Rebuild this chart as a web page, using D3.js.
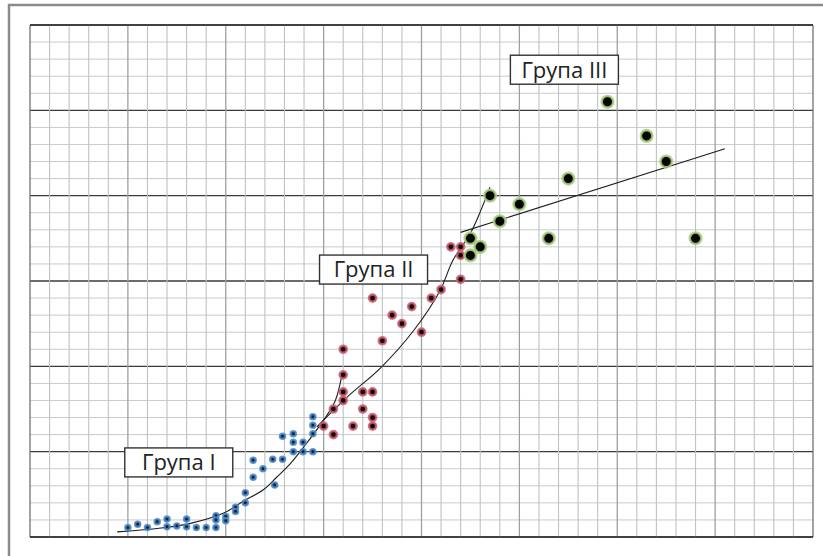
<!DOCTYPE html>
<html>
<head>
<meta charset="utf-8">
<script src="https://cdnjs.cloudflare.com/ajax/libs/d3/7.8.5/d3.min.js"></script>
<style>
  body { margin: 0; background: #fff; }
  svg { display: block; }
</style>
</head>
<body>
<div id="chart"></div>
<script>
// Initial set up
const chartWidth = 823;
const chartHeight = 556;
const margin = { top: 25, right: 10, bottom: 19, left: 30 };

// Group I (blue)
const groupOneX = [5, 5.5, 6, 6.5, 7, 7, 7.5, 8, 8, 8.5, 9, 9.5, 9.5, 9.5, 10, 10, 10.5, 10.5, 11, 11,
  11.4, 11.4, 11.9, 12.4, 12.5, 12.9, 12.9, 13.45, 13.45, 13.45, 13.95, 13.95, 14.45, 14.45, 14.45, 14.45];
const groupOneY = [0.55, 0.75, 0.55, 0.9, 1.05, 0.6, 0.65, 1.05, 0.6, 0.55, 0.55, 1.25, 1.0, 0.55, 1.2, 0.95, 1.75, 1.5, 2.6, 2.0,
  4.5, 3.5, 4.0, 4.55, 3.05, 5.9, 4.55, 6.05, 5.55, 5.0, 5.55, 5.0, 7.05, 6.55, 6.05, 5.0];

// Group II (red)
const groupTwoX = [15, 15.5, 15.5, 16, 16, 16, 16, 16.5, 17, 17, 17.5, 17.5, 17.5, 17.5, 18, 18.5, 19, 19.5, 20, 20.5, 21, 22, 21.5, 22, 22];
const groupTwoY = [6.5, 6, 7.5, 8, 8.5, 9.5, 11, 6.5, 8.5, 7.5, 8.5, 7, 6.5, 14, 11.5, 13, 12.5, 13.5, 12, 14, 14.5, 15.1, 17, 17, 16.5];

// Group III (green)
const groupThreeX = [23.5, 25, 24, 22.5, 23, 22.5, 26.5, 27.5, 29.5, 31.5, 32.5, 34];
const groupThreeY = [20, 19.5, 18.5, 17.5, 17, 16.5, 17.5, 21, 25.5, 23.5, 22, 17.5];

// Trend curves
const trendOneX = [4.45, 6.5, 8.2, 9.9, 10.9, 11.9, 12.6, 13.3, 14.0, 15.0, 15.6, 15.95];
const trendOneY = [0.3, 0.5, 0.8, 1.4, 2.1, 2.75, 3.5, 4.3, 5.3, 6.85, 8.0, 9.6];
const trendTwoX = [14.65, 16.2, 17.9, 19.6, 20.95, 21.6, 22.5, 23.0, 23.5];
const trendTwoY = [6.45, 8.2, 9.9, 12.1, 14.45, 16.2, 17.8, 19.05, 20.5];
const trendThreeX = [22.0, 35.5];
const trendThreeY = [17.85, 22.75];

const labels = ['Група I', 'Група II', 'Група III'];
const labelX = [7.6, 17.55, 27.3];
const labelY = [4.37, 15.67, 27.38];

const zip = (xs, ys) => xs.map((x, i) => ({ x, y: ys[i] }));

// Scales
const x = d3.scaleLinear().domain([0, 40]).range([margin.left, chartWidth - margin.right]);
const y = d3.scaleLinear().domain([0, 30]).range([chartHeight - margin.bottom, margin.top]);

const svg = d3.select('#chart')
  .append('svg')
  .attr('width', chartWidth)
  .attr('height', chartHeight);

// outer frame
svg.append('path')
  .attr('d', `M9,${chartHeight + 5} V5 H${chartWidth + 5}`)
  .attr('fill', 'none')
  .attr('stroke', '#868d8c')
  .attr('stroke-width', 2.5);

// Grid
const grid = svg.append('g');
grid.selectAll('.hminor')
  .data(d3.range(0, 31))
  .enter()
  .append('line')
  .attr('x1', x(0)).attr('x2', x(40))
  .attr('y1', d => y(d)).attr('y2', d => y(d))
  .attr('stroke', d => d % 5 === 0 ? '#3a3a3a' : '#c9cbcb')
  .attr('stroke-width', d => d % 5 === 0 ? 1.4 : 1);

grid.selectAll('.vminor')
  .data(d3.range(0, 41))
  .enter()
  .append('line')
  .attr('y1', y(0)).attr('y2', y(30))
  .attr('x1', d => x(d)).attr('x2', d => x(d))
  .attr('stroke', d => (d === 0 || d === 40) ? '#6f7373' : (d % 5 === 0 ? '#9da1a1' : '#bfc3c3'))
  .attr('stroke-width', d => d % 5 === 0 ? 1.3 : 1.1);

// redraw the dark top/bottom edges on top
grid.selectAll('.edge')
  .data([0, 30])
  .enter()
  .append('line')
  .attr('x1', x(0)).attr('x2', x(40))
  .attr('y1', d => y(d)).attr('y2', d => y(d))
  .attr('stroke', '#333')
  .attr('stroke-width', 1.5);

// Trend lines
const line = d3.line()
  .x(d => x(d.x))
  .y(d => y(d.y))
  .curve(d3.curveCatmullRom);

[zip(trendOneX, trendOneY), zip(trendTwoX, trendTwoY), zip(trendThreeX, trendThreeY)].forEach(pts => {
  svg.append('path')
    .attr('d', line(pts))
    .attr('fill', 'none')
    .attr('stroke', '#1e1e1e')
    .attr('stroke-width', 1.1);
});

// Points
const drawGroup = (pts, r, fill, halo, haloWidth) => {
  svg.append('g')
    .selectAll('circle')
    .data(pts)
    .enter()
    .append('circle')
    .attr('cx', d => x(d.x))
    .attr('cy', d => y(d.y))
    .attr('r', r)
    .attr('fill', fill)
    .attr('stroke', halo)
    .attr('stroke-opacity', 0.85)
    .attr('stroke-width', haloWidth);
};

drawGroup(zip(groupOneX, groupOneY), 2.6, '#10203c', '#4a88c8', 2.3);
drawGroup(zip(groupTwoX, groupTwoY), 3.6, '#120507', '#cf5f74', 2.5);
drawGroup(zip(groupThreeX, groupThreeY), 5.8, '#050505', '#a9d17c', 2.6);

// Labels
const labelGroup = svg.append('g')
  .selectAll('g')
  .data(labels)
  .enter()
  .append('g')
  .attr('transform', (d, i) => `translate(${x(labelX[i])},${y(labelY[i])})`);

labelGroup.append('rect')
  .attr('x', -54)
  .attr('y', -14.5)
  .attr('width', 108)
  .attr('height', 29)
  .attr('fill', '#fff')
  .attr('stroke', '#333')
  .attr('stroke-width', 1.4);

labelGroup.append('text')
  .attr('text-anchor', 'middle')
  .attr('dy', '0.36em')
  .attr('font-family', 'Open Sans, sans-serif')
  .attr('font-size', 22)
  .attr('fill', '#222')
  .text(d => d);
</script>
</body>
</html>
